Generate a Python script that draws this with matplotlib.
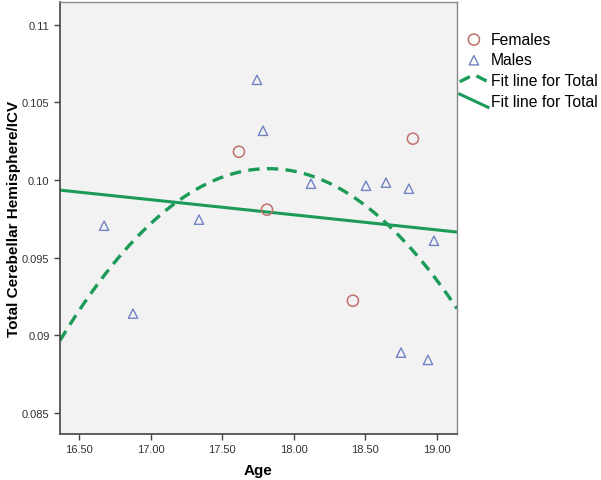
import numpy as np
import matplotlib
matplotlib.use('Agg')
import matplotlib.pyplot as plt
from matplotlib.lines import Line2D
from matplotlib.legend_handler import HandlerBase

plt.rcParams['font.family'] = ['Liberation Sans', 'DejaVu Sans']

# data
fem_age = [17.617, 17.813, 18.413, 18.832]
fem_val = [0.10182, 0.09809, 0.09223, 0.10266]
male_age = [16.675, 16.877, 17.338, 17.743, 17.785, 18.120, 18.504, 18.644,
            18.804, 18.749, 18.937, 18.979]
male_val = [0.09706, 0.09140, 0.09745, 0.10645, 0.10317, 0.09976, 0.09963,
            0.09983, 0.09944, 0.08889, 0.08842, 0.09609]
xticks = [16.5, 17.0, 17.5, 18.0, 18.5, 19.0]
xlabels = ['16.50', '17.00', '17.50', '18.00', '18.50', '19.00']
yticks = [0.085, 0.09, 0.095, 0.10, 0.105, 0.11]
ylabels = ['0.085', '0.09', '0.095', '0.10', '0.105', '0.11']

green = '#1b9a58'
red = '#c0706c'
blue = '#7283c4'


class SlantHandler(HandlerBase):
    # legend icons drawn as slanted pieces like SPSS does
    def __init__(self, kind):
        super().__init__()
        self.kind = kind

    def create_artists(self, legend, orig_handle, xdescent, ydescent,
                       width, height, fontsize, trans):
        x0 = -xdescent
        w = width
        h = height
        if self.kind == 'curve':
            xs = [x0, x0 + w * 0.5, x0 + w]
            ys = [h * 0.3, h * 0.95, h * 0.3]
        else:
            xs = [x0, x0 + w]
            ys = [h * 1.05, -h * 0.15]
        ln = Line2D(xs, ys)
        self.update_prop(ln, orig_handle, legend)
        ln.set_transform(trans)
        return [ln]


all_age = np.array(fem_age + male_age)
all_val = np.array(fem_val + male_val)

fig = plt.figure(figsize=(6.01, 4.81), dpi=100)
ax = fig.add_axes([0.0998, 0.0956, 0.6606, 0.8982])
ax.set_facecolor('#f2f2f2')

xlim = (16.367, 19.14)
ylim = (0.08365, 0.11146)

xx = np.linspace(xlim[0], xlim[1], 200)
c2 = np.polyfit(all_age, all_val, 2)
c1 = np.polyfit(all_age, all_val, 1)

h_f = ax.scatter(fem_age, fem_val, s=64, facecolors='none', edgecolors=red,
                 linewidths=1.1, zorder=3)
h_m = ax.scatter(male_age, male_val, s=45, marker='^', facecolors='none',
                 edgecolors=blue, linewidths=1.0, zorder=3)
h_q, = ax.plot(xx, np.polyval(c2, xx), color=green, lw=2.4, ls=(0, (3.4, 2.2)))
h_l, = ax.plot(xx, np.polyval(c1, xx), color=green, lw=2.2)

ax.set_xlim(xlim)
ax.set_ylim(ylim)
ax.set_xticks(xticks, xlabels)
ax.set_yticks(yticks, ylabels)
ax.tick_params(axis='both', direction='out', length=4, width=1, color='#444444',
               labelsize=8, labelcolor='#333333')
ax.tick_params(top=False, right=False)
for side in ['left', 'bottom']:
    ax.spines[side].set_color('#444444')
    ax.spines[side].set_linewidth(1.2)
for side in ['top', 'right']:
    ax.spines[side].set_color('#888888')
    ax.spines[side].set_linewidth(1.0)

ax.set_xlabel('Age', fontsize=11, fontweight='bold', labelpad=6)
ax.set_ylabel('Total Cerebellar Hemisphere/ICV', fontsize=11, fontweight='bold',
              labelpad=1)

fig.legend([h_f, h_m, h_q, h_l],
           ['Females', 'Males', 'Fit line for Total', 'Fit line for Total'],
           handler_map={h_q: SlantHandler('curve'), h_l: SlantHandler('line')},
           loc='upper left', bbox_to_anchor=(0.765, 0.932), frameon=False,
           fontsize=11.3, handlelength=1.8, handletextpad=0.2,
           labelspacing=0.36, borderaxespad=0, borderpad=0)

fig.savefig('out.png', dpi=100)
